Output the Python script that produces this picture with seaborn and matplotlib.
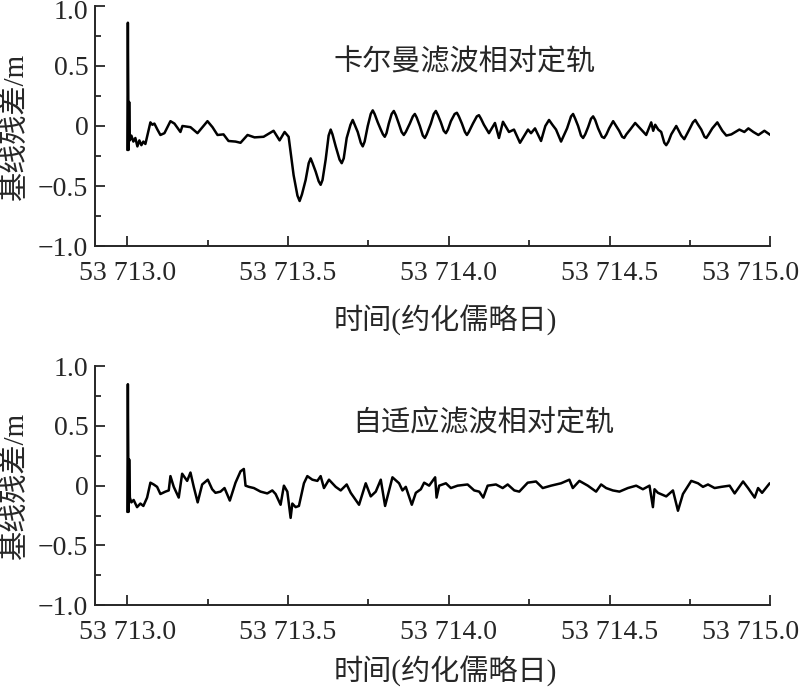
import matplotlib
matplotlib.use('Agg')
import matplotlib.pyplot as plt
from matplotlib.ticker import MultipleLocator
from matplotlib.transforms import ScaledTranslation
import seaborn as sns
import pandas as pd

# time offsets in days from MJD 53713.0, residuals in metres
mjd_base = 53713.0

t_kalman = [0.0, 0.0016, 0.0037, 0.0056, 0.0078, 0.0125, 0.0187, 0.0249, 0.0312, 0.0374,
            0.0436, 0.0498, 0.0561, 0.0623, 0.0717, 0.0779, 0.0841, 0.0935, 0.1028, 0.1153,
            0.1340, 0.1464, 0.1651, 0.1713, 0.1963, 0.2181, 0.2492, 0.2648, 0.2804, 0.2991,
            0.3146, 0.3364, 0.3520, 0.3738, 0.3956, 0.4237, 0.4548, 0.4735, 0.4891, 0.5016,
            0.5171, 0.529, 0.5358, 0.543, 0.5545, 0.564, 0.5701, 0.576, 0.5857, 0.595,
            0.6012, 0.607, 0.6168, 0.626, 0.6324, 0.638, 0.6480, 0.660, 0.6667, 0.673,
            0.6822, 0.694, 0.7009, 0.707, 0.7165, 0.726, 0.7321, 0.738, 0.7477, 0.757,
            0.7632, 0.769, 0.7788, 0.7882, 0.795, 0.8006, 0.806, 0.8131, 0.822, 0.8287,
            0.835, 0.8442, 0.853, 0.8598, 0.866, 0.8785, 0.888, 0.8941, 0.900, 0.9097,
            0.919, 0.9252, 0.931, 0.9439, 0.953, 0.9595, 0.966, 0.9751, 0.984, 0.9907,
            0.997, 1.0062, 1.018, 1.0249, 1.031, 1.0405, 1.050, 1.0561, 1.062, 1.0748,
            1.087, 1.0935, 1.100, 1.1090, 1.1246, 1.1433, 1.1558, 1.1682, 1.1869, 1.2025,
            1.2212, 1.2461, 1.2555, 1.2679, 1.2866, 1.300, 1.3115, 1.322, 1.3333, 1.3489,
            1.3676, 1.380, 1.3863, 1.393, 1.4019, 1.411, 1.4174, 1.424, 1.4330, 1.442,
            1.4486, 1.455, 1.4642, 1.476, 1.4829, 1.490, 1.4984, 1.5109, 1.5296, 1.539,
            1.5452, 1.552, 1.5639, 1.5794, 1.5981, 1.6137, 1.6293, 1.6355, 1.6417, 1.6511,
            1.6604, 1.670, 1.6760, 1.683, 1.6916, 1.7072, 1.7227, 1.7321, 1.7477, 1.759,
            1.7664, 1.773, 1.7850, 1.7950, 1.8006, 1.808, 1.8193, 1.8349, 1.8505, 1.8629,
            1.8785, 1.9034, 1.9190, 1.9315, 1.9470, 1.9626, 1.9813, 2.0000]
r_kalman = [-0.20, 0.86, -0.20, 0.20, -0.12, -0.08, -0.13, -0.10, -0.17, -0.12,
            -0.16, -0.13, -0.15, -0.08, 0.03, 0.01, 0.02, -0.03, -0.075, -0.06,
            0.04, 0.02, -0.05, 0.0, -0.01, -0.06, 0.04, -0.01, -0.075, -0.07,
            -0.125, -0.13, -0.14, -0.075, -0.095, -0.09, -0.04, -0.12, -0.05, -0.09,
            -0.41, -0.58, -0.625, -0.57, -0.45, -0.31, -0.27, -0.31, -0.38, -0.46,
            -0.49, -0.45, -0.28, -0.08, -0.03, -0.07, -0.17, -0.28, -0.31, -0.27,
            -0.10, 0.01, 0.05, 0.01, -0.05, -0.14, -0.17, -0.13, 0.0, 0.10,
            0.13, 0.10, 0.03, -0.03, -0.07, -0.09, -0.06, 0.02, 0.10, 0.125,
            0.09, 0.02, -0.05, -0.075, -0.05, 0.02, 0.08, 0.10, 0.07, 0.0,
            -0.08, -0.10, -0.07, 0.02, 0.10, 0.125, 0.09, 0.03, -0.04, -0.06,
            -0.03, 0.04, 0.10, 0.11, 0.08, 0.02, -0.05, -0.075, -0.05, 0.02,
            0.08, 0.09, 0.06, 0.01, -0.06, 0.025, -0.10, 0.035, -0.05, -0.03,
            -0.14, -0.03, -0.06, -0.02, -0.125, 0.0, 0.05, 0.01, -0.03, -0.13,
            -0.02, 0.08, 0.10, 0.06, 0.0, -0.08, -0.10, -0.07, -0.01, 0.06,
            0.08, 0.05, -0.02, -0.09, -0.10, -0.07, -0.02, 0.04, -0.04, -0.09,
            -0.10, -0.07, -0.03, 0.025, -0.03, -0.075, 0.03, -0.04, 0.01, -0.03,
            -0.05, -0.14, -0.16, -0.13, -0.07, 0.0, -0.08, -0.11, -0.03, 0.03,
            0.05, 0.02, -0.03, -0.09, -0.10, -0.07, -0.02, 0.03, -0.04, -0.08,
            -0.07, -0.03, -0.05, -0.02, -0.05, -0.075, -0.04, -0.075]

t_adaptive = [0.0, 0.0016, 0.0037, 0.0056, 0.0078, 0.0125, 0.0196, 0.0302, 0.0405, 0.0498,
              0.0614, 0.0717, 0.0819, 0.0925, 0.1028, 0.1184, 0.1287, 0.1340, 0.1443, 0.1598,
              0.1704, 0.1860, 0.1963, 0.2065, 0.2187, 0.2327, 0.2502, 0.2638, 0.2741, 0.2897,
              0.3022, 0.3187, 0.3364, 0.3520, 0.3623, 0.3676, 0.3779, 0.3935, 0.4143, 0.4352,
              0.4508, 0.4611, 0.4766, 0.4869, 0.4976, 0.5078, 0.5131, 0.5234, 0.5336, 0.5492,
              0.5598, 0.5754, 0.5910, 0.6012, 0.6115, 0.6271, 0.6480, 0.6636, 0.6822, 0.6947,
              0.7206, 0.7414, 0.7570, 0.7726, 0.7882, 0.8016, 0.8245, 0.8451, 0.8557, 0.8660,
              0.8847, 0.8972, 0.9128, 0.9231, 0.9386, 0.9573, 0.9617, 0.9698, 0.9907, 1.0062,
              1.0271, 1.0582, 1.0788, 1.0944, 1.1069, 1.1206, 1.1464, 1.1673, 1.1829, 1.2035,
              1.2190, 1.2452, 1.2710, 1.2919, 1.3178, 1.3489, 1.3748, 1.3854, 1.4059, 1.4321,
              1.4579, 1.4735, 1.4891, 1.5100, 1.5305, 1.5567, 1.5826, 1.6034, 1.6240, 1.6346,
              1.6396, 1.6502, 1.6760, 1.6969, 1.7125, 1.7280, 1.7539, 1.7748, 1.7903, 1.8059,
              1.8265, 1.8474, 1.8732, 1.8888, 1.9150, 1.9305, 1.9511, 1.9617, 1.9741, 1.9978]
r_adaptive = [-0.22, 0.85, -0.22, 0.22, -0.10, -0.14, -0.12, -0.18, -0.15, -0.17,
              -0.10, 0.025, 0.01, -0.01, -0.07, -0.05, -0.04, 0.08, -0.01, -0.10,
              0.10, 0.04, 0.11, -0.01, -0.14, 0.01, 0.05, -0.03, -0.06, -0.05,
              -0.02, -0.125, 0.025, 0.12, 0.14, 0.0, -0.01, -0.02, -0.05, -0.065,
              -0.04, -0.07, -0.16, 0.0, -0.05, -0.27, -0.15, -0.18, -0.17, 0.02,
              0.08, 0.05, 0.04, 0.08, -0.02, 0.05, -0.01, -0.04, 0.01, -0.06,
              -0.16, 0.02, -0.09, -0.05, 0.05, -0.17, 0.07, 0.02, -0.04, -0.01,
              -0.16, -0.06, -0.03, 0.025, 0.0, 0.07, -0.10, 0.0, 0.02, -0.02,
              0.0, 0.01, -0.04, -0.05, -0.10, 0.0, 0.01, -0.02, 0.01, -0.04,
              -0.05, 0.025, 0.035, -0.02, 0.0, 0.02, 0.05, -0.02, 0.04, 0.0,
              -0.05, 0.01, -0.02, -0.04, -0.05, -0.02, 0.0, -0.03, 0.0, -0.18,
              -0.03, -0.06, -0.09, -0.04, -0.21, -0.07, 0.04, 0.02, -0.01, 0.01,
              -0.02, -0.01, 0.0, -0.065, 0.035, -0.02, -0.10, -0.02, -0.06, 0.02]

x_ticks = [53713.0, 53713.5, 53714.0, 53714.5, 53715.0]
x_ticklabels = ['53 713.0', '53 713.5', '53 714.0', '53 714.5', '53 715.0']
y_ticks = [-1.0, -0.5, 0.0, 0.5, 1.0]
y_ticklabels = ['\u22121.0', '\u22120.5', '0', '0.5', '1.0']

panel_titles = ['卡尔曼滤波相对定轨', '自适应滤波相对定轨']
ylabel = '基线残差/m'
xlabel = '时间(约化儒略日)'

sns.set_style('ticks')
plt.rcParams['font.family'] = ['Liberation Serif', 'Noto Sans CJK SC', 'DejaVu Sans']

fig = plt.figure(figsize=(8, 6.88), dpi=100)
ax_top = fig.add_axes([0.119, 0.6424, 0.844, 0.349])
ax_bot = fig.add_axes([0.119, 0.1206, 0.844, 0.347])

series = [(ax_top, t_kalman, r_kalman, panel_titles[0], 53713.642),
          (ax_bot, t_adaptive, r_adaptive, panel_titles[1], 53713.70)]

for ax, t, r, title, tx in series:
    df = pd.DataFrame({'mjd': [mjd_base + v for v in t], 'res': r})
    sns.lineplot(data=df, x='mjd', y='res', ax=ax, color='black', linewidth=1.8,
                 sort=False, estimator=None)
    ax.set_xlim(53712.9, 53715.0)
    ax.set_ylim(-1.0, 1.0)
    sns.despine(ax=ax)
    for side in ['left', 'bottom']:
        ax.spines[side].set_linewidth(1.4)
    ax.set_xticks(x_ticks, x_ticklabels)
    ax.set_yticks(y_ticks, y_ticklabels)
    ax.xaxis.set_minor_locator(MultipleLocator(0.25))
    ax.yaxis.set_minor_locator(MultipleLocator(0.25))
    ax.tick_params(which='major', direction='in', length=7, width=1.3, labelsize=20)
    ax.tick_params(which='minor', direction='in', length=4, width=1.3)
    ax.tick_params(axis='x', which='major', pad=11)
    ax.tick_params(axis='y', which='major', pad=5)
    ax.text(tx, 0.53, title, fontsize=21, ha='left', va='center')
    ax.set_xlabel(xlabel, fontsize=21, va='center')
    ax.set_ylabel(ylabel, fontsize=21, va='center')
    ax.yaxis.set_label_coords(-0.118, 0.5)

ax_top.xaxis.set_label_coords(0.519, -0.308)
ax_bot.xaxis.set_label_coords(0.519, -0.28)

# nudge edge labels so they stay inside the figure, as in the original
fig.canvas.draw()
for ax in [ax_top, ax_bot]:
    last = ax.get_xticklabels()[-1]
    last.set_transform(last.get_transform() + ScaledTranslation(-0.2, 0, fig.dpi_scale_trans))
top_lbl = ax_top.get_yticklabels()[-1]
top_lbl.set_transform(top_lbl.get_transform() + ScaledTranslation(0, -0.04, fig.dpi_scale_trans))

fig.savefig('out.png', dpi=100, facecolor='white')
